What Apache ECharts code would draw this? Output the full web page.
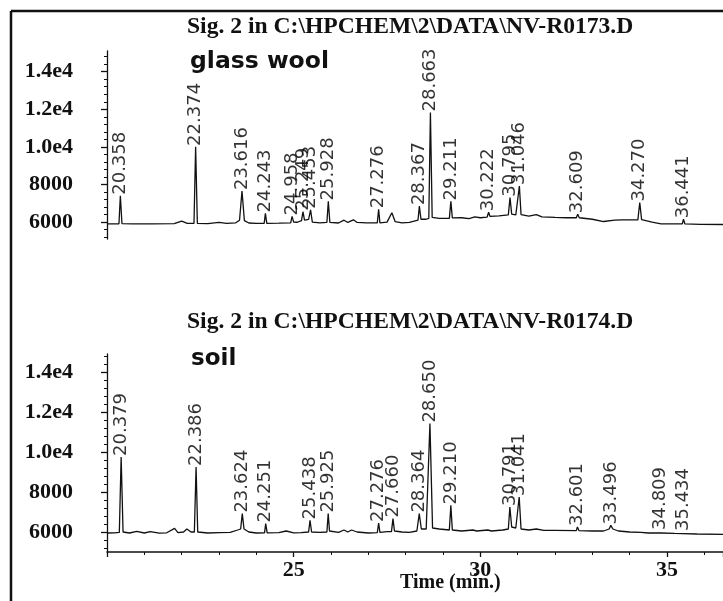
<!DOCTYPE html>
<html><head><meta charset="utf-8">
<script src="https://cdn.jsdelivr.net/npm/echarts@6/dist/echarts.min.js"></script>
<style>html,body{margin:0;padding:0;background:#fff}#c{width:723px;height:601px}</style>
</head><body><div id="c"></div>
<script>
// ---- data ----
const topTimes = [20.00,20.20,20.32,20.358,20.40,20.70,21.20,21.80,22.00,22.15,22.33,22.374,22.42,22.70,23.00,23.20,23.45,23.55,23.616,23.68,23.80,24.00,24.21,24.243,24.28,24.60,24.92,24.958,25.00,25.10,25.21,25.249,25.29,25.40,25.453,25.50,25.70,25.89,25.928,25.97,26.20,26.35,26.45,26.60,26.70,26.95,27.24,27.276,27.31,27.50,27.63,27.72,27.90,28.10,28.33,28.367,28.41,28.55,28.62,28.663,28.71,28.90,29.17,29.211,29.25,29.50,29.70,29.85,30.00,30.18,30.222,30.26,30.50,30.75,30.795,30.84,30.95,31.00,31.046,31.09,31.30,31.50,31.65,32.00,32.30,32.57,32.609,32.65,33.00,33.30,33.60,33.80,34.22,34.270,34.32,34.60,34.84,35.20,35.41,35.441,35.48,35.90,36.50];
const topSignal = [5900,5900,5910,7400,5920,5900,5900,5920,6050,5930,5930,10000,5930,5920,5980,5930,5960,6100,7650,6080,5950,5930,5930,6460,5930,5940,5960,6300,6000,5990,6080,6550,6100,6150,6650,6000,5960,5980,7100,5980,5950,6100,5980,6120,5980,5960,5960,6680,5960,6000,6500,6020,5960,5980,6100,6850,6150,6150,6200,11830,6250,6200,6200,7100,6220,6230,6180,6280,6230,6260,6520,6300,6330,6380,7300,6420,6380,6420,7920,6400,6320,6400,6280,6250,6230,6230,6420,6230,6150,6030,6100,6120,6120,7040,6130,6000,5900,5900,5900,6150,5900,5880,5870];

const bottomTimes = [20.00,20.20,20.33,20.379,20.43,20.60,20.80,21.00,21.16,21.40,21.60,21.81,21.90,22.05,22.14,22.25,22.34,22.386,22.43,22.70,23.00,23.30,23.50,23.58,23.624,23.67,23.80,24.00,24.22,24.251,24.29,24.60,24.80,25.00,25.20,25.40,25.438,25.48,25.70,25.89,25.925,25.96,26.20,26.35,26.45,26.55,26.70,27.00,27.24,27.276,27.31,27.50,27.62,27.660,27.70,27.90,28.10,28.30,28.364,28.42,28.55,28.650,28.72,28.90,29.17,29.210,29.25,29.50,29.80,29.90,30.20,30.30,30.60,30.75,30.791,30.84,30.95,31.00,31.041,31.09,31.30,31.50,31.70,32.00,32.57,32.601,32.64,33.00,33.30,33.45,33.496,33.55,33.70,34.00,34.30,34.50,34.78,34.809,34.84,35.20,35.41,35.434,35.46,35.80,36.50];
const bottomSignal = [5950,5960,5980,9750,6000,5950,6030,5950,6020,5940,5960,6180,5970,6000,6150,6000,6000,9250,6000,5950,5970,5980,6100,6150,6920,6150,6000,5950,5960,6420,5960,5970,6050,5960,5970,6000,6580,6000,5980,6000,6920,6050,5980,6100,6000,6100,6000,5950,5970,6450,5980,6020,6020,6670,6050,6000,5980,6050,6920,6150,6150,11420,6200,6150,6100,7330,6100,6050,6100,6050,6100,6050,6100,6150,7250,6250,6200,6200,7750,6150,6100,6150,6080,6080,6070,6250,6070,6050,6050,6150,6330,6150,6050,6000,5980,5950,5950,6050,5950,5930,5920,6000,5920,5900,5880];

const topPeakTimes = [20.358,22.374,23.616,24.243,24.958,25.249,25.453,25.928,27.276,28.367,28.663,29.211,30.222,30.795,31.046,32.609,34.270,35.441];
const topPeakHeights = [7400,10000,7650,6460,6300,6550,6650,7100,6680,6850,11830,7100,6520,7300,7920,6420,7040,6150];
const topPeakLabels = ['20.358','22.374','23.616','24.243','24.958','25.249','25.453','25.928','27.276','28.367','28.663','29.211','30.222','30.795','31.046','32.609','34.270','36.441'];

const bottomPeakTimes = [20.379,22.386,23.624,24.251,25.438,25.925,27.276,27.660,28.364,28.650,29.210,30.791,31.041,32.601,33.496,34.809,35.434];
const bottomPeakHeights = [9750,9250,6920,6420,6580,6920,6450,6670,6920,11420,7330,7250,7750,6250,6330,6050,6000];
const bottomPeakLabels = ['20.379','22.386','23.624','24.251','25.438','25.925','27.276','27.660','28.364','28.650','29.210','30.791','31.041','32.601','33.496','34.809','35.434'];

const yTickValues = [6000,8000,10000,12000,14000];
const yTickLabels = ['6000','8000','1.0e4','1.2e4','1.4e4'];
const yMinorTicks = [5200,5600,6400,6800,7200,7600,8400,8800,9200,9600,10400,10800,11200,11600,12400,12800,13200,13600,14400,14800];
const xTickLabels = [25,30,35];

const topTitle = 'Sig. 2 in C:\\HPCHEM\\2\\DATA\\NV-R0173.D';
const bottomTitle = 'Sig. 2 in C:\\HPCHEM\\2\\DATA\\NV-R0174.D';
const topSample = 'glass wool';
const bottomSample = 'soil';
const xName = 'Time (min.)';

// ---- chart ----
const INK = '#111';
const SERIF = '"Liberation Serif","Times New Roman",serif';
const SANS = '"DejaVu Sans",sans-serif';
function zip(a,b){return a.map((v,i)=>[v,b[i]]);}

function mainY(grid,min,max){
  return {type:'value',gridIndex:grid,min:min,max:max,
    axisLine:{show:true,onZero:false,lineStyle:{color:INK,width:1.3}},
    axisTick:{show:true,inside:false,length:6,customValues:yTickValues,lineStyle:{color:INK,width:1.3}},
    axisLabel:{show:true,margin:34,customValues:yTickValues,color:INK,fontFamily:SERIF,fontWeight:'bold',fontSize:22,
      formatter:v=>yTickLabels[yTickValues.indexOf(v)]},
    splitLine:{show:false}};
}
function minorY(grid,min,max){
  return {type:'value',gridIndex:grid,min:min,max:max,position:'left',
    axisLine:{show:false,onZero:false},
    axisTick:{show:true,inside:false,length:3,customValues:yMinorTicks,lineStyle:{color:INK,width:1}},
    axisLabel:{show:false},splitLine:{show:false}};
}
function peakLabels(xi,yi,times,heights,labels){
  return {type:'scatter',xAxisIndex:xi,yAxisIndex:yi,symbolSize:0,silent:true,
    data:zip(times,heights),
    label:{show:true,position:'top',distance:1,rotate:90,align:'left',verticalAlign:'middle',
      color:'#000',fontFamily:SANS,fontSize:18,
      formatter:p=>labels[p.dataIndex]}};
}

const chart = echarts.init(document.getElementById('c'),null,{renderer:'canvas'});
chart.setOption({
  backgroundColor:'#fff',
  animation:false,
  grid:[
    {left:107,right:-11,top:51,height:188},
    {left:107,right:-11,top:354,height:198}
  ],
  xAxis:[
    {type:'value',gridIndex:0,min:20,max:36.5,show:false},
    {type:'value',gridIndex:1,min:20,max:36.5,interval:5,
      axisLine:{show:true,onZero:false,lineStyle:{color:INK,width:1.5}},
      axisTick:{show:true,length:5,lineStyle:{color:INK,width:1.3}},
      minorTick:{show:true,splitNumber:5,length:3,lineStyle:{color:INK,width:1}},
      axisLabel:{show:true,customValues:xTickLabels,margin:7,color:INK,fontFamily:SERIF,fontWeight:'bold',fontSize:22},
      splitLine:{show:false},minorSplitLine:{show:false}}
  ],
  yAxis:[mainY(0,5100,15100),minorY(0,5100,15100),mainY(1,5000,14900),minorY(1,5000,14900)],
  series:[
    {type:'line',xAxisIndex:0,yAxisIndex:0,data:zip(topTimes,topSignal),showSymbol:false,silent:true,
      lineStyle:{color:INK,width:1.3}},
    {type:'line',xAxisIndex:1,yAxisIndex:2,data:zip(bottomTimes,bottomSignal),showSymbol:false,silent:true,
      lineStyle:{color:INK,width:1.3}},
    peakLabels(0,0,topPeakTimes,topPeakHeights,topPeakLabels),
    peakLabels(1,2,bottomPeakTimes,bottomPeakHeights,bottomPeakLabels)
  ],
  graphic:[
    {type:'line',shape:{x1:11,y1:11,x2:723,y2:11},style:{stroke:INK,lineWidth:2.5}},
    {type:'line',shape:{x1:11,y1:11,x2:11,y2:601},style:{stroke:INK,lineWidth:2.5}},
    {type:'text',left:187,top:15,style:{text:topTitle,font:'bold 23.6px '+SERIF,fill:INK}},
    {type:'text',left:187,top:310,style:{text:bottomTitle,font:'bold 23.6px '+SERIF,fill:INK}},
    {type:'text',left:190,top:50,style:{text:topSample,font:'bold 23.5px '+SANS,fill:INK}},
    {type:'text',left:191,top:348,style:{text:bottomSample,font:'bold 23px '+SANS,fill:INK}},
    {type:'text',left:400,top:573,style:{text:xName,font:'bold 20px '+SERIF,fill:INK}}
  ]
});
</script></body></html>
